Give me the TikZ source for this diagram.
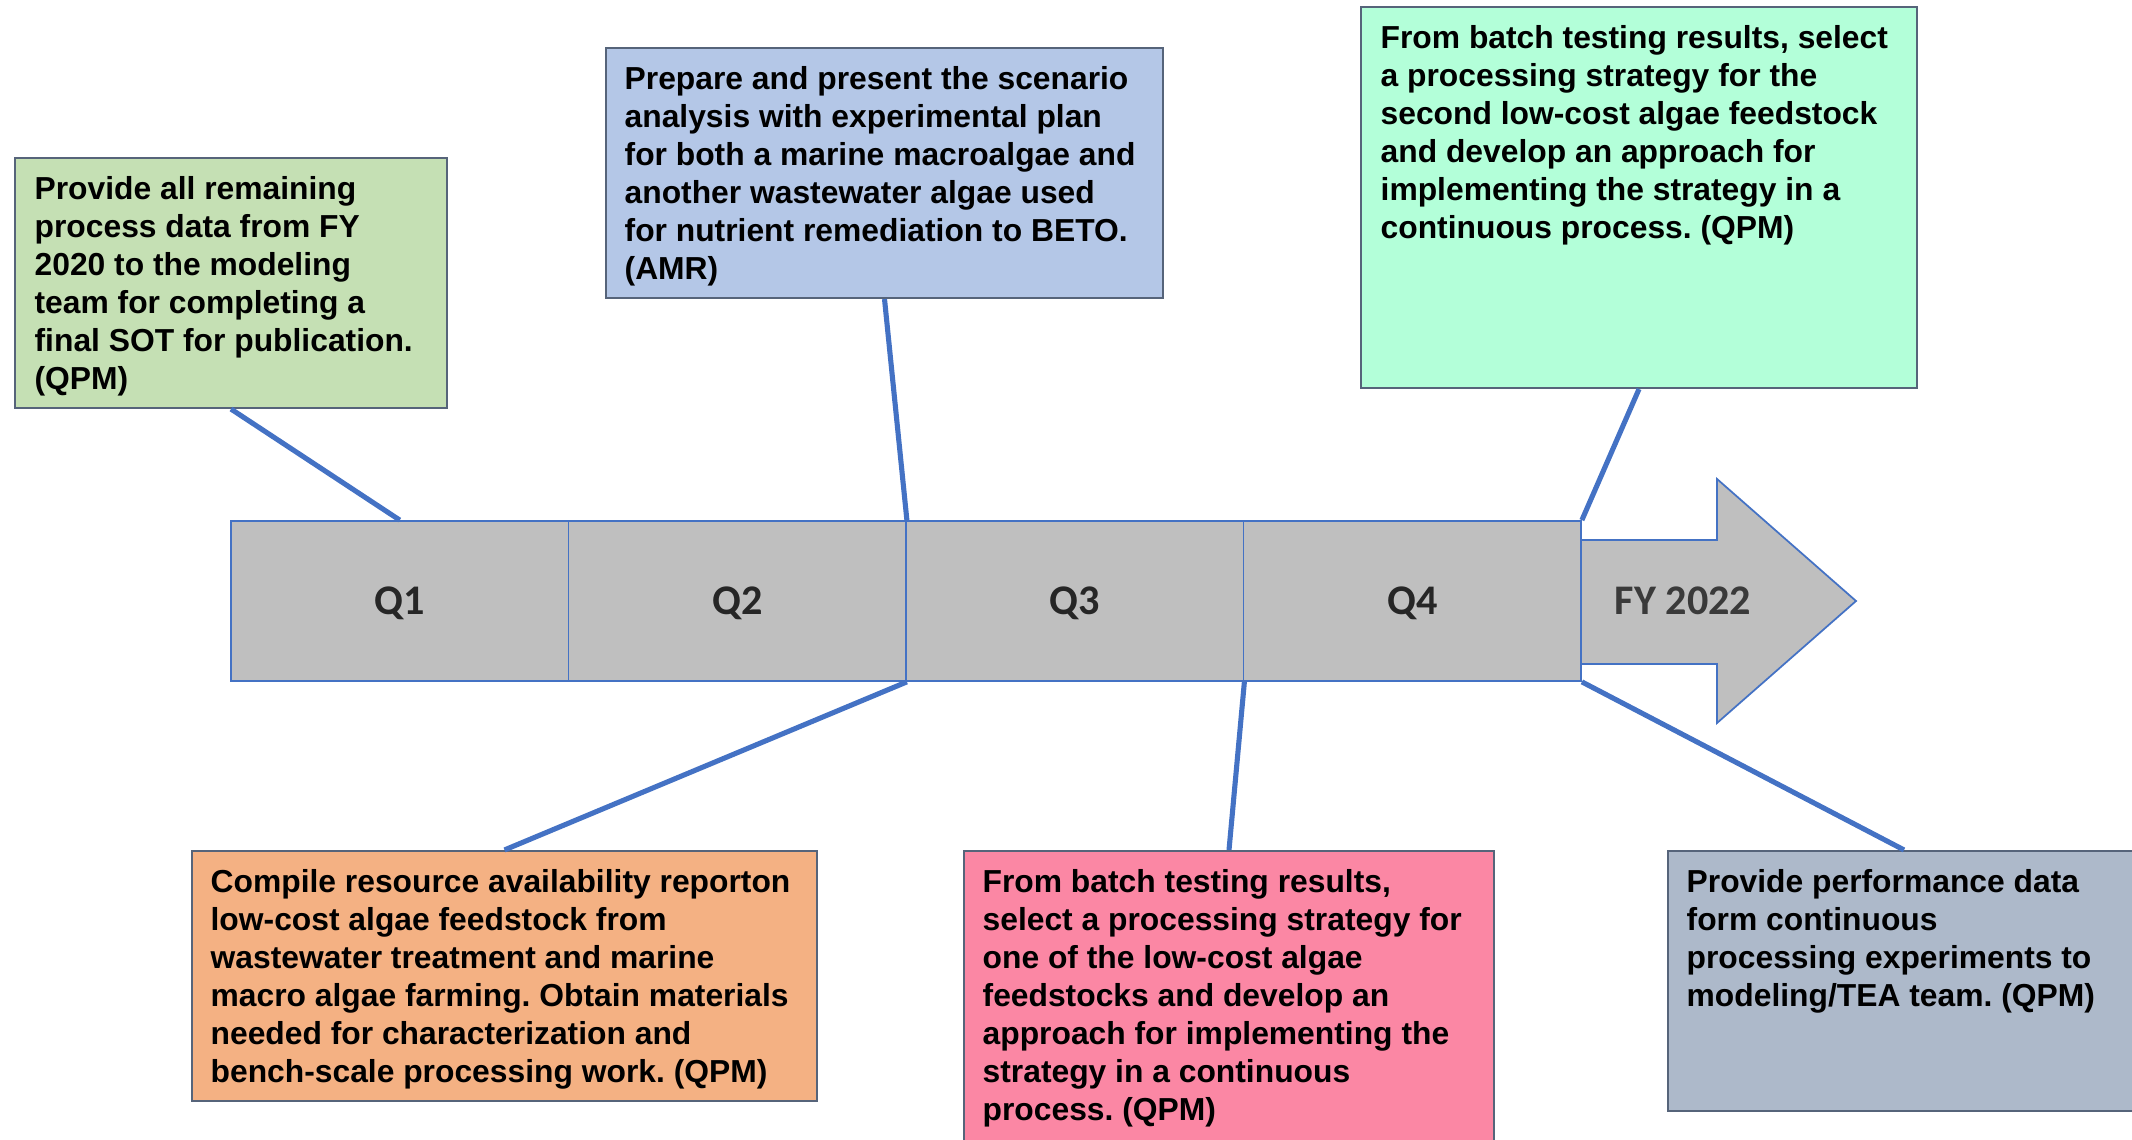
\documentclass[tikz,border=0pt]{standalone}
\usepackage{fontspec}
\setmainfont{Liberation Sans}
\newfontfamily\calibri{Carlito}
\usetikzlibrary{positioning}
\frenchspacing
\definecolor{linkblue}{HTML}{4472C4}
\definecolor{bargrey}{HTML}{BFBFBF}
\definecolor{qtext}{HTML}{262626}
\definecolor{fytext}{HTML}{3A3A3A}
\definecolor{noteedge}{HTML}{56647A}
\definecolor{sotgreen}{HTML}{C5E0B4}
\definecolor{amrblue}{HTML}{B4C7E7}
\definecolor{mintgreen}{HTML}{B3FFD9}
\definecolor{resorange}{HTML}{F4B183}
\definecolor{batchpink}{HTML}{FB87A4}
\definecolor{perfslate}{HTML}{ADB9CA}
\tikzset{
	note/.style = {draw=noteedge, line width=0.6pt, inner sep=0pt},
	notetext/.style = {anchor=north west, inner sep=0pt, align=left, font=\bfseries\fontsize{9.05}{10.8}\selectfont},
	quarter/.style = {draw=linkblue, line width=0.5pt, fill=bargrey, minimum width=33.75mm, minimum height=16mm, inner sep=0pt, text depth=0pt, text=qtext, font=\calibri\bfseries\fontsize{12}{14}\selectfont},
	link/.style = {draw=linkblue, line width=1.45pt}
}

\begin{document}
\begin{tikzpicture}[x=0.1mm, y=-0.1mm]
	\useasboundingbox (0,0) rectangle (2132,1140);
	\foreach \name/\col/\cx/\cy/\w/\h in {sot/sotgreen/231/283/43.2mm/25mm, amr/amrblue/884.5/173/55.7mm/25mm, batchtwo/mintgreen/1639/197.5/55.6mm/38.1mm, resource/resorange/504.5/976/62.5mm/25mm, batchone/batchpink/1229/1001/53mm/30mm, perf/perfslate/1904/981/47.2mm/26mm} {
		\node[note, fill=\col, minimum width=\w, minimum height=\h] (\name) at (\cx,\cy) {};
	}
	\node[notetext] (sottxt) at ([xshift=2mm, yshift=-1.9mm]sot.north west) {Provide all remaining\\process data from FY\\2020 to the modeling\\team for completing a\\final SOT for publication.\\(QPM)};
	\node[notetext] (amrtxt) at ([xshift=1.9mm, yshift=-1.9mm]amr.north west) {Prepare and present the scenario\\analysis with experimental plan\\for both a marine macroalgae and\\another wastewater algae used\\for nutrient remediation to BETO.\\(AMR)};
	\node[notetext] (batchtwotxt) at ([xshift=2mm, yshift=-1.9mm]batchtwo.north west) {From batch testing results, select\\a processing strategy for the\\second low-cost algae feedstock\\and develop an approach for\\implementing the strategy in a\\continuous process. (QPM)};
	\node[notetext] (resourcetxt) at ([xshift=1.9mm, yshift=-1.9mm]resource.north west) {Compile resource availability reporton\\low-cost algae feedstock from\\wastewater treatment and marine\\macro algae farming. Obtain materials\\needed for characterization and\\bench-scale processing work. (QPM)};
	\node[notetext] (batchonetxt) at ([xshift=1.9mm, yshift=-1.9mm]batchone.north west) {From batch testing results,\\select a processing strategy for\\one of the low-cost algae\\feedstocks and develop an\\approach for implementing the\\strategy in a continuous\\process. (QPM)};
	\node[notetext] (perftxt) at ([xshift=1.9mm, yshift=-1.9mm]perf.north west) {Provide performance data\\form continuous\\processing experiments to\\modeling/TEA team. (QPM)};
	\draw[draw=linkblue, line width=0.5pt, fill=bargrey] (1581,540) -- (1717,540) -- (1717,479) -- (1856,601) -- (1717,723) -- (1717,664) -- (1581,664);
	\node[text=fytext, font=\calibri\bfseries\fontsize{12}{14}\selectfont] (fy) at (1683,601) {FY 2022};
	\foreach \q in {1,...,4} {
		\node[quarter] (q\q) at ({231+337.5*(\q-0.5)},601) {Q\q};
	}
	\draw[link] (sot.south) -- (q1.north);
	\draw[link] (amr.south) -- (q2.north east);
	\draw[link] (batchtwo.south) -- (q4.north east);
	\draw[link] (q2.south east) -- (resource.north);
	\draw[link] (q3.south east) -- (batchone.north);
	\draw[link] (q4.south east) -- (perf.north);
\end{tikzpicture}
\end{document}
